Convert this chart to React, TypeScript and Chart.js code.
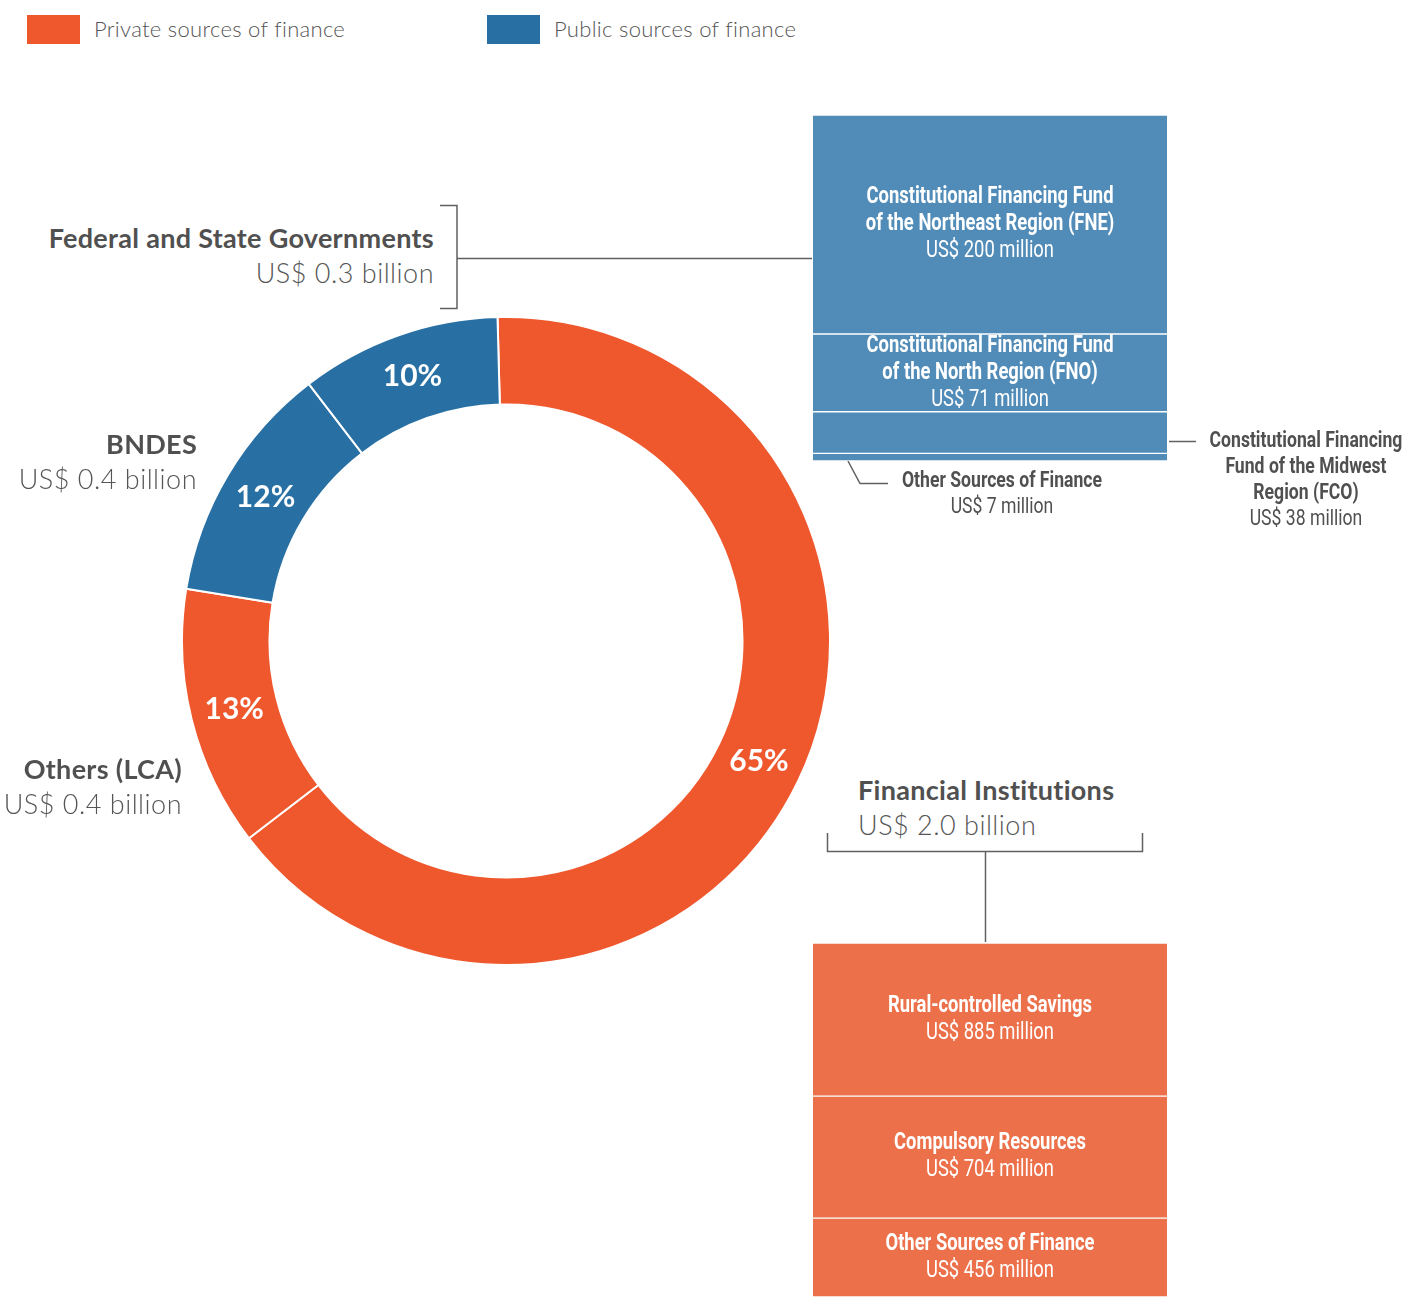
import React, { useEffect, useRef } from 'react';
import { Chart, registerables } from 'chart.js';

Chart.register(...registerables);

// ---- Data ----
const shareLabels = ['Financial Institutions', 'Others (LCA)', 'BNDES', 'Federal and State Governments'];
const shareValues = [65, 13, 12, 10];
const shareColors = ['#EF572D', '#EF572D', '#2870A4', '#2870A4'];

// stacked from bottom to top
const publicNames = [
  'Other Sources of Finance',
  'Constitutional Financing Fund of the Midwest Region (FCO)',
  'Constitutional Financing Fund of the North Region (FNO)',
  'Constitutional Financing Fund of the Northeast Region (FNE)',
];
const publicValues = [7, 38, 71, 200];
const publicTitleLines = [
  ['Other Sources of Finance'],
  ['Constitutional Financing', 'Fund of the Midwest', 'Region (FCO)'],
  ['Constitutional Financing Fund', 'of the North Region (FNO)'],
  ['Constitutional Financing Fund', 'of the Northeast Region (FNE)'],
];

const privateNames = ['Other Sources of Finance', 'Compulsory Resources', 'Rural-controlled Savings'];
const privateValues = [456, 704, 885];
const privateTitleLines = [['Other Sources of Finance'], ['Compulsory Resources'], ['Rural-controlled Savings']];

const PUBLIC_BAR = '#518CB8';
const PRIVATE_BAR = '#EC7049';
const TEXT = '#505050';
const MAIN_FONT = 'Lato, "Open Sans", sans-serif';
const NARROW_FONT = 'Roboto, "Liberation Sans", sans-serif';
const SQUEEZE = 0.8;

const money = (v: number) => `US$ ${v} million`;

const pctPlugin = {
  id: 'pctLabels',
  afterDatasetsDraw(chart: any) {
    const ctx = chart.ctx;
    const meta = chart.getDatasetMeta(0);
    ctx.save();
    ctx.fillStyle = '#ffffff';
    ctx.font = `bold 30px ${MAIN_FONT}`;
    ctx.textAlign = 'center';
    ctx.textBaseline = 'middle';
    meta.data.forEach((arc: any, i: number) => {
      const p = arc.tooltipPosition();
      ctx.fillText(`${chart.data.datasets[0].data[i]}%`, p.x, p.y);
    });
    ctx.restore();
  },
};

const makeSegPlugin = (titles: string[][], minH: number) => ({
  id: 'segLabels',
  afterDatasetsDraw(chart: any) {
    const ctx = chart.ctx;
    ctx.save();
    ctx.fillStyle = '#ffffff';
    ctx.textAlign = 'center';
    ctx.textBaseline = 'middle';
    chart.data.datasets.forEach((ds: any, i: number) => {
      const bar = chart.getDatasetMeta(i).data[0];
      const top = Math.min(bar.y, bar.base);
      const bottom = Math.max(bar.y, bar.base);
      if (bottom - top < minH) return;
      const lines = [
        ...titles[i].map((t) => ({ t, bold: true })),
        { t: money(ds.data[0]), bold: false },
      ];
      const lh = 27;
      const cy = (top + bottom) / 2;
      const y0 = cy - ((lines.length - 1) * lh) / 2;
      lines.forEach((ln, k) => {
        ctx.font = `${ln.bold ? 'bold' : 'normal'} 23px ${NARROW_FONT}`;
        const w = ctx.measureText(ln.t).width;
        ctx.fillText(ln.t, bar.x, y0 + k * lh, w * SQUEEZE);
      });
    });
    ctx.restore();
  },
});

function makeStack(canvas: HTMLCanvasElement, names: string[], values: number[], color: string, titles: string[][]) {
  const total = values.reduce((a, b) => a + b, 0);
  return new Chart(canvas, {
    type: 'bar',
    data: {
      labels: [''],
      datasets: names.map((n, i) => ({
        label: n,
        data: [values[i]],
        backgroundColor: color,
        borderColor: '#ffffff',
        borderWidth: { top: 1, bottom: 1, left: 0, right: 0 },
        borderSkipped: false,
        barPercentage: 1,
        categoryPercentage: 1,
      })),
    },
    options: {
      animation: false,
      responsive: false,
      layout: { padding: 0 },
      plugins: { legend: { display: false }, tooltip: { enabled: false } },
      scales: {
        x: { display: false, stacked: true },
        y: { display: false, stacked: true, min: 0, max: total },
      },
    },
    plugins: [makeSegPlugin(titles, 60)],
  } as any);
}

const abs = (o: React.CSSProperties): React.CSSProperties => ({ position: 'absolute', ...o });

export default function App() {
  const donutRef = useRef<HTMLCanvasElement>(null);
  const pubRef = useRef<HTMLCanvasElement>(null);
  const privRef = useRef<HTMLCanvasElement>(null);

  useEffect(() => {
    const donut = new Chart(donutRef.current!, {
      type: 'doughnut',
      data: {
        labels: shareLabels,
        datasets: [
          {
            data: shareValues,
            backgroundColor: shareColors,
            borderColor: '#ffffff',
            borderWidth: 2,
            hoverOffset: 0,
            offset: 0,
          },
        ],
      },
      options: {
        animation: false,
        responsive: false,
        rotation: -1.5,
        cutout: '73%',
        layout: { padding: 0 },
        plugins: { legend: { display: false }, tooltip: { enabled: false } },
      },
      plugins: [pctPlugin],
    } as any);
    const pub = makeStack(pubRef.current!, publicNames, publicValues, PUBLIC_BAR, publicTitleLines);
    const priv = makeStack(privRef.current!, privateNames, privateValues, PRIVATE_BAR, privateTitleLines);
    return () => {
      donut.destroy();
      pub.destroy();
      priv.destroy();
    };
  }, []);

  const bigLabel = (name: string, amount: string, pos: React.CSSProperties, align: 'left' | 'right') => (
    <div style={abs({ ...pos, textAlign: align, fontFamily: MAIN_FONT, fontSize: 27, lineHeight: '35px', color: TEXT, whiteSpace: 'nowrap' })}>
      <div style={{ fontWeight: 700, letterSpacing: 0.3 }}>{name}</div>
      <div style={{ fontWeight: 300, letterSpacing: 0.5, color: '#555' }}>{amount}</div>
    </div>
  );

  const narrowBlock = (lines: string[], amount: string, cx: number, top: number) => (
    <div style={abs({ left: cx - 200, top, width: 400, textAlign: 'center', fontFamily: NARROW_FONT, fontSize: 22, lineHeight: '26px', color: TEXT, whiteSpace: 'nowrap' })}>
      <div style={{ transform: `scaleX(${SQUEEZE})`, transformOrigin: '50% 50%' }}>
        {lines.map((l, i) => (
          <div key={i} style={{ fontWeight: 700 }}>{l}</div>
        ))}
        <div style={{ fontWeight: 400 }}>{amount}</div>
      </div>
    </div>
  );

  const legendText: React.CSSProperties = { lineHeight: '29px', fontFamily: MAIN_FONT, fontWeight: 300, fontSize: 22, letterSpacing: 0.3, color: '#555', whiteSpace: 'nowrap' };

  return (
    <div style={abs({ left: 0, top: 0, width: 1408, height: 1297, background: '#fff', overflow: 'hidden' })}>
      <svg width={1408} height={1297} style={abs({ left: 0, top: 0 })}>
        <g fill="none" stroke="#606060" strokeWidth={1.5}>
          <path d="M440,205.5 H457 V308.5 H440" />
          <path d="M457,258.5 H812" />
          <path d="M827.5,833 V851.5 H1142.5 V833" />
          <path d="M985.5,851 V942" />
          <path d="M1169,441.5 H1196" />
          <path d="M848,461 L860,483.5 H888" />
        </g>
      </svg>

      {/* Legend */}
      <div style={abs({ left: 27, top: 15, width: 53, height: 29, background: '#EF572D' })} />
      <div style={abs({ left: 94, top: 14, ...legendText })}>Private sources of finance</div>
      <div style={abs({ left: 487, top: 15, width: 53, height: 29, background: '#2870A4' })} />
      <div style={abs({ left: 554, top: 14, ...legendText })}>Public sources of finance</div>

      {/* Donut */}
      <canvas ref={donutRef} width={650} height={650} style={abs({ left: 181, top: 316 })} />

      {/* Stacks */}
      <canvas ref={pubRef} width={354} height={346} style={abs({ left: 813, top: 115 })} />
      <canvas ref={privRef} width={354} height={354} style={abs({ left: 813, top: 943 })} />

      {/* Labels */}
      {bigLabel('Federal and State Governments', 'US$ 0.3 billion', { right: 1408 - 434, top: 220 }, 'right')}
      {bigLabel('BNDES', 'US$ 0.4 billion', { right: 1408 - 197, top: 426 }, 'right')}
      {bigLabel('Others (LCA)', 'US$ 0.4 billion', { right: 1408 - 182, top: 751 }, 'right')}
      {bigLabel('Financial Institutions', 'US$ 2.0 billion', { left: 858, top: 772 }, 'left')}

      {narrowBlock(publicTitleLines[1], money(publicValues[1]), 1306, 427)}
      {narrowBlock(publicTitleLines[0], money(publicValues[0]), 1002, 467)}
    </div>
  );
}
